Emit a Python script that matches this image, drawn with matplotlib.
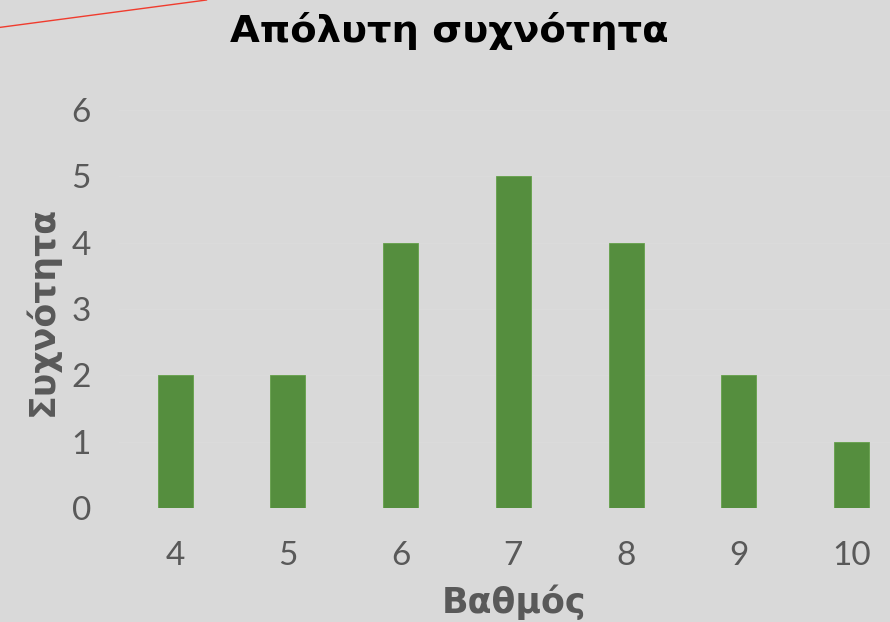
import matplotlib.pyplot as plt
from matplotlib.lines import Line2D

# Βαθμοί και συχνότητες
grades = ['4', '5', '6', '7', '8', '9', '10']
counts = [2, 2, 4, 5, 4, 2, 1]
yticks = [0, 1, 2, 3, 4, 5, 6]

bg = '#d9d9d9'
green = '#558e3e'
grey = '#595959'
bold_font = ['DejaVu Sans']

fig = plt.figure(figsize=(8.9, 6.22), dpi=100, facecolor=bg)
ax = fig.add_axes([0.1333, 0.1833, 0.8667, 0.640])
ax.set_facecolor(bg)

x = range(len(grades))
ax.bar(x, counts, width=0.31, color=green, edgecolor='#64a04a', linewidth=0.6, zorder=3)

ax.set_xlim(-0.5, 6.34)
ax.set_ylim(0, 6)
ax.set_xticks(list(x))
ax.set_xticklabels(grades)
ax.set_yticks(yticks)
ax.yaxis.grid(True, color='#dbdbdb', linewidth=0.8, zorder=0)
ax.set_axisbelow(True)

for s in ax.spines.values():
    s.set_visible(False)
ax.tick_params(length=0, labelsize=24, labelcolor=grey)
ax.tick_params(axis='x', pad=24)
ax.tick_params(axis='y', pad=20)
for lbl in ax.get_xticklabels() + ax.get_yticklabels():
    lbl.set_fontfamily(['Lato', 'DejaVu Sans'])
    lbl.set_fontweight('normal')

# Τίτλος και ετικέτες αξόνων
fig.text(0.505, 0.950, 'Απόλυτη συχνότητα', ha='center', va='center',
         fontsize=27.7, fontweight='bold', color='black', family=bold_font)
fig.text(0.577, 0.032, 'Βαθμός', ha='center', va='center',
         fontsize=25, fontweight='bold', color=grey, family=bold_font)
fig.text(0.047, 0.50, 'Συχνότητα', ha='center', va='center', rotation=90,
         fontsize=25, fontweight='bold', color=grey, family=bold_font)

# Κόκκινη γραμμή πάνω αριστερά
fig.add_artist(Line2D([0, 0.232], [0.956, 1.0], transform=fig.transFigure,
                      color='#f03c2e', linewidth=1.0))

fig.savefig('out.png', dpi=100, facecolor=bg)
